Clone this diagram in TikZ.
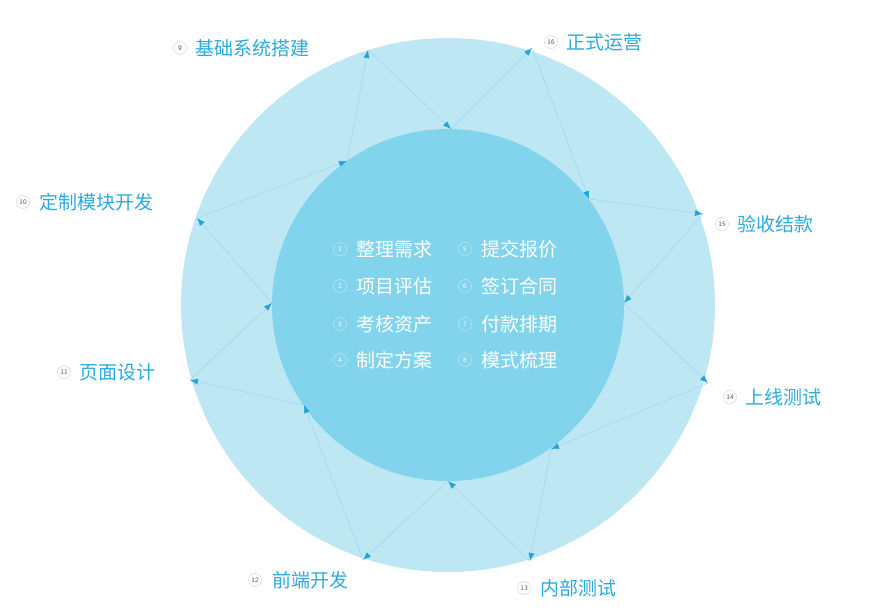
\documentclass[tikz,border=0pt]{standalone}
\usepackage{fontspec}
\newfontfamily\cjk{Noto Sans CJK SC}
\usetikzlibrary{arrows.meta}
\definecolor{outerc}{HTML}{BEE7F4}
\definecolor{innerc}{HTML}{82D3EC}
\definecolor{txtc}{HTML}{2AAAE0}
\definecolor{arrc}{HTML}{1FA3DA}
\begin{document}
\begin{tikzpicture}[x=1pt,y=-1pt,
  seg/.style={draw=arrc!45, line width=0.5pt, -{Latex[length=8pt,width=6pt,color=arrc]}},
  num/.style={circle,draw=gray!40,fill=white,inner sep=0pt,minimum size=13pt,font=\sffamily\fontsize{7}{7}\selectfont,text=gray!70!black},
  inum/.style={circle,draw=white!60!innerc,inner sep=0pt,minimum size=13pt,font=\sffamily\fontsize{7}{7}\selectfont,text=white},
  lab/.style={anchor=west,font=\cjk\fontsize{19}{19}\selectfont,text=txtc,inner sep=0pt},
  ilab/.style={anchor=west,font=\cjk\fontsize{19}{19}\selectfont,text=white,inner sep=0pt}]
\useasboundingbox (0,0) rectangle (893,614);
\fill[outerc] (448,305) circle (267);
\fill[innerc] (448,305) circle (176);
\coordinate (o9) at (368,50); \coordinate (o16) at (532,48);
\coordinate (o15) at (703,214); \coordinate (o14) at (708,383);
\coordinate (o13) at (530,561); \coordinate (o12) at (363,560);
\coordinate (o11) at (190,380); \coordinate (o10) at (197,218);
\coordinate (i1) at (451,129); \coordinate (i2) at (589,199);
\coordinate (i3) at (624,303); \coordinate (i4) at (551,449);
\coordinate (i5) at (448,481); \coordinate (i6) at (304,405);
\coordinate (i7) at (272,303); \coordinate (i8) at (347,161);
\foreach \a/\b in {i8/o9,o9/i1,i1/o16,o16/i2,i2/o15,o15/i3,i3/o14,o14/i4,i4/o13,o13/i5,i5/o12,o12/i6,i6/o11,o11/i7,i7/o10,o10/i8}
  \draw[seg] (\a) -- (\b);
\node[num] (n9) at (180,48) {9}; \node[lab] (t9) at (195,48) {基础系统搭建};
\node[num] (n16) at (551,42) {16}; \node[lab] (t16) at (566,42) {正式运营};
\node[num] (n15) at (722,224) {15}; \node[lab] (t15) at (737,224) {验收结款};
\node[num] (n14) at (730,397) {14}; \node[lab] (t14) at (745,397) {上线测试};
\node[num] (n13) at (524,588) {13}; \node[lab] (t13) at (540,588) {内部测试};
\node[num] (n12) at (255,580) {12}; \node[lab] (t12) at (272,580) {前端开发};
\node[num] (n11) at (64,372) {11}; \node[lab] (t11) at (79,372) {页面设计};
\node[num] (n10) at (23,202) {10}; \node[lab] (t10) at (39,202) {定制模块开发};
\foreach \i/\y/\t in {1/249/整理需求,2/286/项目评估,3/324/考核资产,4/360/制定方案}
  {\node[inum] (m\i) at (340,\y) {\i}; \node[ilab] (l\i) at (356,\y) {\t};}
\foreach \i/\y/\t in {5/249/提交报价,6/286/签订合同,7/324/付款排期,8/360/模式梳理}
  {\node[inum] (m\i) at (465,\y) {\i}; \node[ilab] (l\i) at (481,\y) {\t};}
\end{tikzpicture}
\end{document}
